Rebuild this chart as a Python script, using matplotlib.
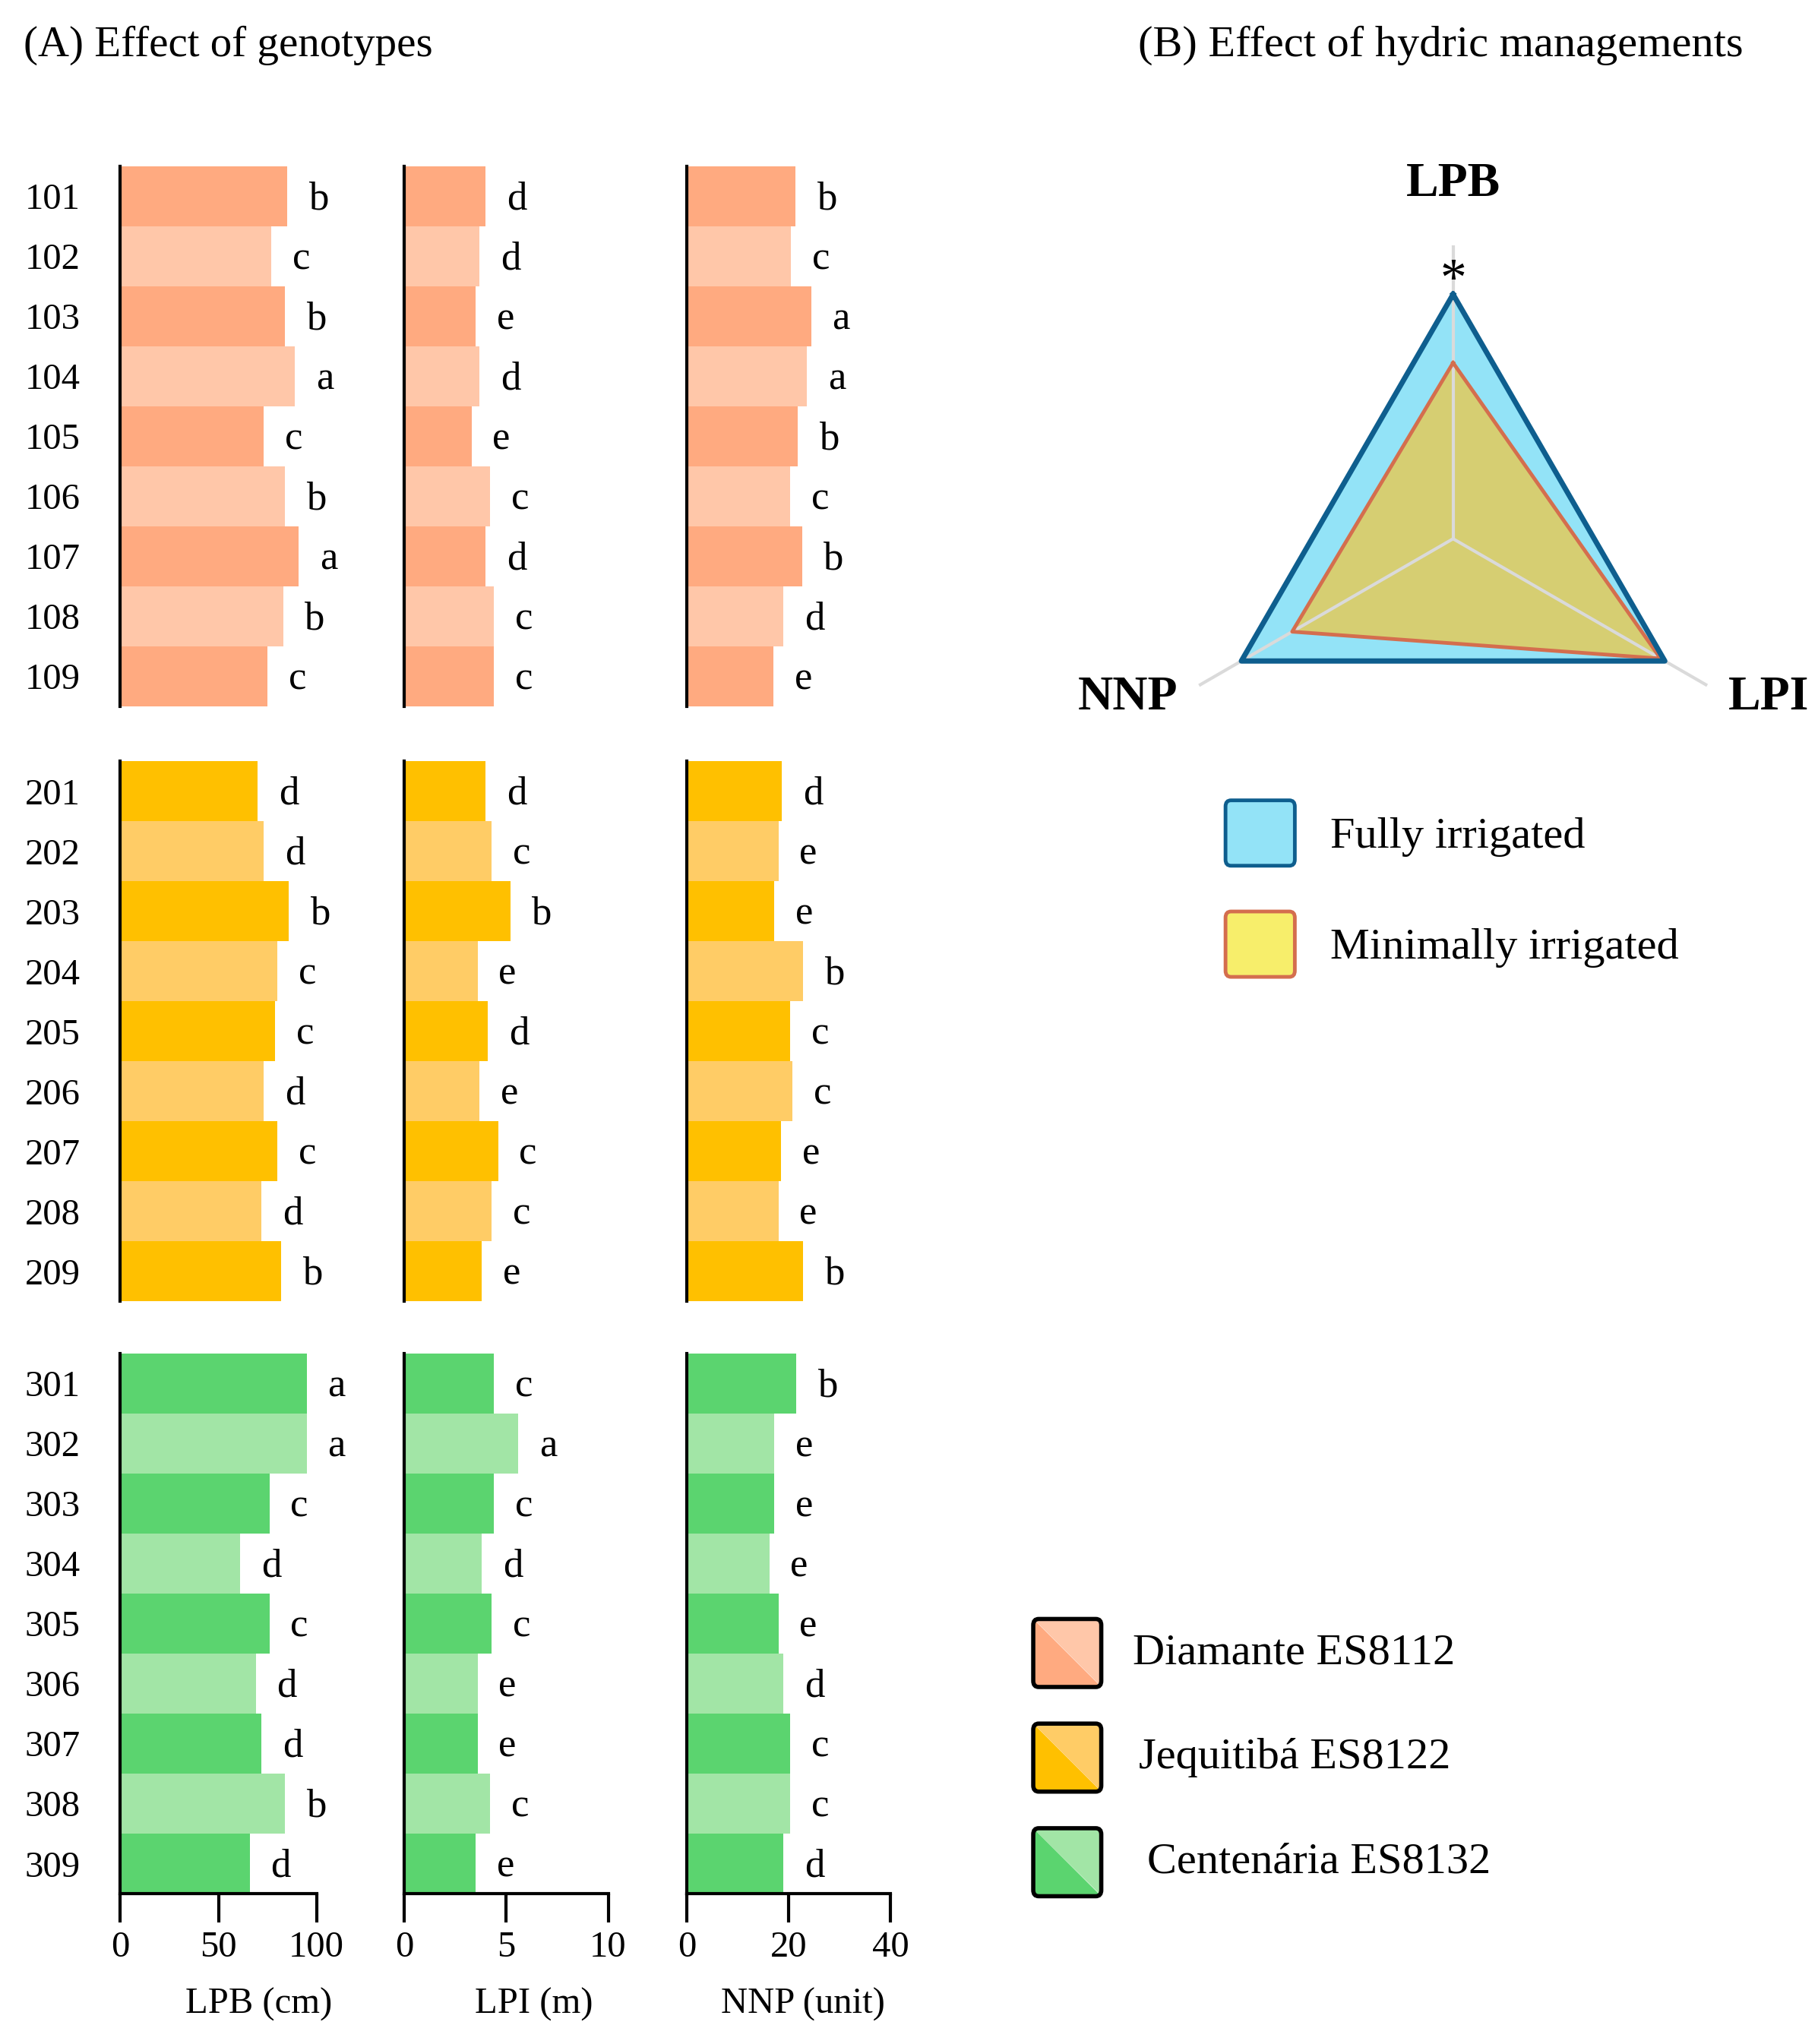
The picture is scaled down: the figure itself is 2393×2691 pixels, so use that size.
import numpy as np
import matplotlib
matplotlib.use("Agg")
import matplotlib.pyplot as plt
from matplotlib.patches import Polygon, FancyBboxPatch

plt.rcParams['font.family'] = ['Liberation Serif', 'DejaVu Serif']

# ---- data ----
genotypes = ['101', '102', '103', '104', '105', '106', '107', '108', '109',
             '201', '202', '203', '204', '205', '206', '207', '208', '209',
             '301', '302', '303', '304', '305', '306', '307', '308', '309']

lpb = [85, 77, 84, 89, 73, 84, 91, 83, 75,
       70, 73, 86, 80, 79, 73, 80, 72, 82,
       95, 95, 76, 61, 76, 69, 72, 84, 66]
lpb_letters = list('bcbacbabc' 'ddbccdcdb' 'aacdcddbd')

lpi = [4.0, 3.7, 3.5, 3.7, 3.3, 4.2, 4.0, 4.4, 4.4,
       4.0, 4.3, 5.2, 3.6, 4.1, 3.7, 4.6, 4.3, 3.8,
       4.4, 5.6, 4.4, 3.8, 4.3, 3.6, 3.6, 4.2, 3.5]
lpi_letters = list('ddedecdcc' 'dcbedecce' 'cacdceece')

nnp = [21.3, 20.5, 24.4, 23.6, 21.8, 20.3, 22.6, 19.0, 17.0,
       18.7, 18.0, 17.2, 22.8, 20.3, 20.8, 18.5, 18.0, 22.8,
       21.5, 17.2, 17.2, 16.2, 18.0, 19.0, 20.3, 20.3, 19.0]
nnp_letters = list('bcaabcbde' 'deebcceeb' 'beeeedccd')

metrics = ['LPB (cm)', 'LPI (m)', 'NNP (unit)']
xmax = [100, 10, 40]
xticks = [[0, 50, 100], [0, 5, 10], [0, 20, 40]]

varieties = ['Diamante ES8112', 'Jequitibá ES8122', 'Centenária ES8132']
dark_cols = ['#FFAA80', '#FFC000', '#5BD46F']
light_cols = ['#FFC7A9', '#FFCC66', '#A2E5A6']

radar_axes = ['LPB', 'LPI', 'NNP']
fully = [1.00, 1.00, 1.00]
minimal = [0.72, 0.98, 0.76]
treatments = ['Fully irrigated', 'Minimally irrigated']

# ---- layout helpers (reference pixel grid 1390 x 1563) ----
W, H = 1390.0, 1563.0
def fx(x):
    return x / W
def fy(y):
    return 1 - y / H

fig = plt.figure(figsize=(23.93, 26.91), dpi=100)

panel_left = [92, 309, 525]
panel_width = [150, 156, 156]
group_top = [127, 582, 1035]
group_h = 413

values = [lpb, lpi, nnp]
letters = [lpb_letters, lpi_letters, nnp_letters]

for g in range(3):
    for m in range(3):
        ax = fig.add_axes([fx(panel_left[m]), fy(group_top[g] + group_h),
                           panel_width[m] / W, group_h / H])
        vals = values[m][g * 9:(g + 1) * 9]
        labs = letters[m][g * 9:(g + 1) * 9]
        cols = [dark_cols[g] if i % 2 == 0 else light_cols[g] for i in range(9)]
        ax.barh(np.arange(9), vals, height=1.0, color=cols, linewidth=0)
        ax.set_ylim(8.5, -0.5)
        ax.set_xlim(0, xmax[m])
        for s in ['top', 'right']:
            ax.spines[s].set_visible(False)
        ax.spines['left'].set_linewidth(3)
        ax.spines['left'].set_color('black')
        for i, (v, l) in enumerate(zip(vals, labs)):
            ax.annotate(l, (v, i), xytext=(20, -3), textcoords='offset points',
                        ha='left', va='center', fontsize=38, annotation_clip=False)
        if m == 0:
            ax.set_yticks(np.arange(9))
            ax.set_yticklabels(genotypes[g * 9:(g + 1) * 9], fontsize=35)
            ax.tick_params(axis='y', length=0, pad=38)
        else:
            ax.set_yticks([])
        if g == 2:
            ax.spines['bottom'].set_linewidth(3)
            ax.set_xticks(xticks[m])
            ax.tick_params(axis='x', direction='out', length=27, width=3,
                           pad=8, labelsize=35)
        else:
            ax.spines['bottom'].set_visible(False)
            ax.set_xticks([])

# x labels
for lab, xc in zip(metrics, [198, 408, 614]):
    fig.text(fx(xc), fy(1533), lab, ha='center', va='center', fontsize=35)

# titles
fig.text(fx(18), fy(35), '(A) Effect of genotypes', ha='left', va='center', fontsize=41)
fig.text(fx(870), fy(35), '(B) Effect of hydric managements', ha='left', va='center', fontsize=42)

# ---- radar ----
rsize = 486
rax = fig.add_axes([fx(1111 - rsize / 2), fy(412 + rsize / 2), rsize / W, rsize / H],
                   projection='polar')
rax.set_theta_offset(np.pi / 2)
rax.set_theta_direction(-1)
ang = np.deg2rad([0, 120, 240])
ang_c = np.append(ang, ang[0])
full_c = np.append(fully, fully[0])
min_c = np.append(minimal, minimal[0])
rax.fill(ang_c, full_c, color='#93E3F7', zorder=2, linewidth=0)
rax.fill(ang_c, min_c, color='#D6CE72', zorder=3, linewidth=0)
for a in ang:
    rax.plot([a, a], [0, 1.2], color='#DADADA', lw=3, zorder=4, solid_capstyle='butt')
rax.plot(ang_c, min_c, color='#D46E4E', lw=3.5, zorder=5)
rax.plot(ang_c, full_c, color='#0E5E8E', lw=5, zorder=6)
rax.set_ylim(0, 1.3)
rax.axis('off')
rax.text(ang[0], 1.45, radar_axes[0], ha='center', va='center', fontsize=46,
         fontweight='bold', clip_on=False)
rax.text(ang[1], 1.3, radar_axes[1], ha='left', va='center', fontsize=46,
         fontweight='bold', clip_on=False)
rax.text(ang[2], 1.3, radar_axes[2], ha='right', va='center', fontsize=46,
         fontweight='bold', clip_on=False)
rax.text(0, 1.0, '*', ha='center', va='baseline', fontsize=50, zorder=10,
         clip_on=False)

# radar legend
tr_fc = ['#93E3F7', '#F7EE6B']
tr_ec = ['#0E5E8E', '#D46E4E']
for i, (name, yc) in enumerate(zip(treatments, [637, 722])):
    box = FancyBboxPatch((fx(937), fy(yc + 25)), 53 / W, 50 / H,
                         boxstyle='round,pad=0,rounding_size=0.003',
                         transform=fig.transFigure, facecolor=tr_fc[i],
                         edgecolor=tr_ec[i], linewidth=3.5)
    fig.patches.append(box)
    fig.text(fx(1017), fy(yc + 3), name, ha='left', va='center', fontsize=42)

# genotype legend
for i, (name, yc, xt) in enumerate(zip(varieties, [1264, 1344, 1424], [866, 871, 877])):
    x0, x1 = fx(790), fx(842)
    y0, y1 = fy(yc + 26), fy(yc - 26)
    fig.patches.append(Polygon([(x0, y1), (x1, y0), (x0, y0)], closed=True,
                               transform=fig.transFigure, facecolor=dark_cols[i],
                               linewidth=0))
    fig.patches.append(Polygon([(x0, y1), (x1, y1), (x1, y0)], closed=True,
                               transform=fig.transFigure, facecolor=light_cols[i],
                               linewidth=0))
    fig.patches.append(FancyBboxPatch((x0, y0), x1 - x0, y1 - y0,
                                      boxstyle='round,pad=0,rounding_size=0.003',
                                      transform=fig.transFigure, facecolor='none',
                                      edgecolor='black', linewidth=4))
    fig.text(fx(xt), fy(yc), name, ha='left', va='center', fontsize=42)

fig.savefig('out.png', dpi=100)
